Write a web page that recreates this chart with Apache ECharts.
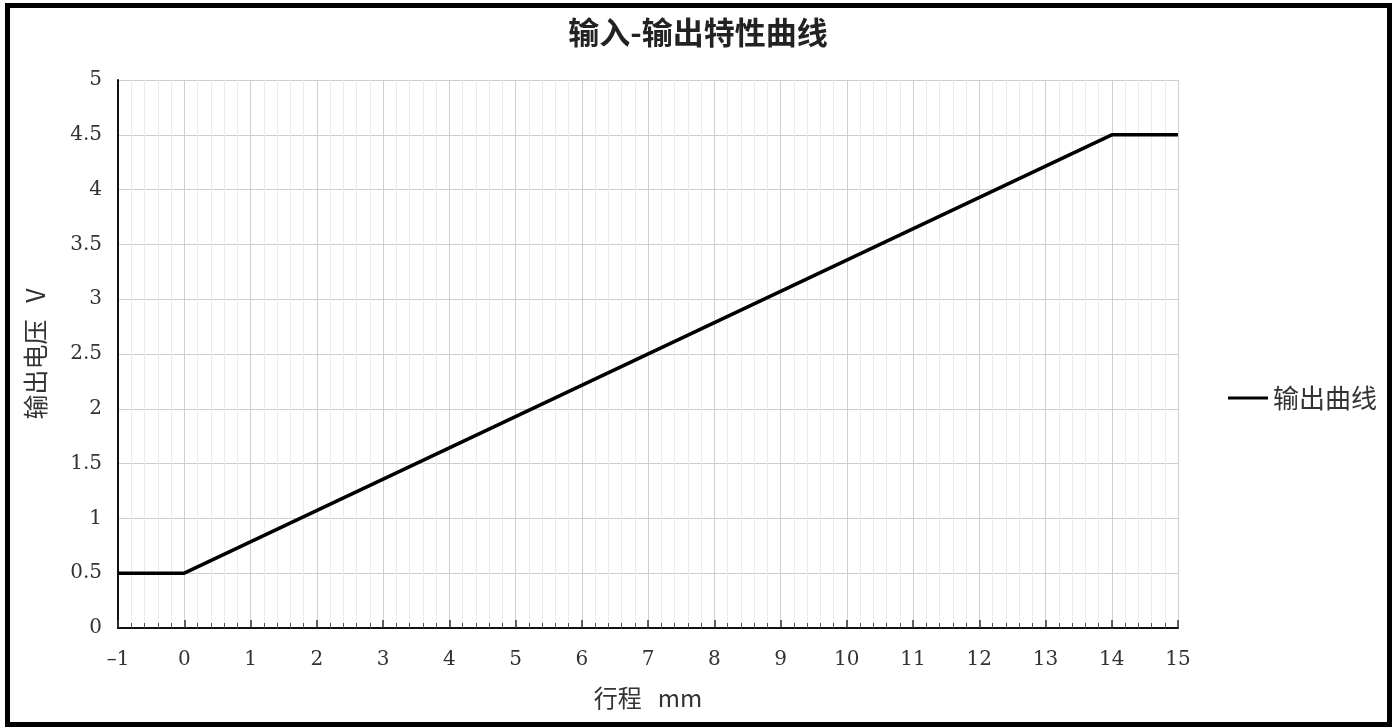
<!DOCTYPE html>
<html><head><meta charset="utf-8">
<script src="https://cdn.jsdelivr.net/npm/echarts@6/dist/echarts.min.js"></script>
<style>html,body{margin:0;padding:0;background:#fff}#c{width:1396px;height:728px}</style>
</head><body><div id="c"></div>
<script>
const titleText = '输入-输出特性曲线';
const seriesName = '输出曲线';
const xName = '行程   mm';
const yName = '输出电压   V';
const strokeX = [-1, 0, 14, 15];
const voltageY = [0.5, 0.5, 4.5, 4.5];

const chart = echarts.init(document.getElementById('c'));
const cjk = '"Noto Sans CJK SC", sans-serif';
const num = '"DejaVu Serif", "Liberation Serif", serif';
chart.setOption({
  animation: false,
  backgroundColor: '#fff',
  title: { text: titleText, left: 'center', top: 12,
    textStyle: { fontFamily: cjk, fontSize: 31, fontWeight: 'bold', color: '#222' } },
  legend: { right: 14, top: 380, orient: 'vertical', itemWidth: 40, itemHeight: 3, itemGap: 8,
    icon: 'rect', textStyle: { fontFamily: cjk, fontSize: 26, color: '#333' },
    data: [{ name: seriesName, icon: 'rect' }] },
  grid: { left: 118, right: 218, top: 80, bottom: 100 },
  xAxis: {
    type: 'value', min: -1, max: 15, interval: 1,
    name: xName, nameLocation: 'middle', nameGap: 58,
    nameTextStyle: { fontFamily: cjk, fontSize: 24, color: '#333' },
    axisLine: { onZero: false, lineStyle: { color: '#111', width: 2 } },
    axisTick: { inside: true, length: 8, lineStyle: { color: '#333', width: 1.5 } },
    minorTick: { show: true, splitNumber: 5, length: 5, lineStyle: { color: '#555' } },
    axisLabel: { fontFamily: num, fontSize: 20, color: '#333', margin: 22,
      formatter: v => (v < 0 ? '\u2013' + Math.abs(v) : String(v)) },
    splitLine: { show: true, lineStyle: { color: '#cfcfcf', width: 1 } },
    minorSplitLine: { show: true, lineStyle: { color: '#ececec', width: 1 } }
  },
  yAxis: {
    type: 'value', min: 0, max: 5, interval: 0.5,
    name: yName, nameLocation: 'middle', nameGap: 70, nameRotate: 90,
    nameTextStyle: { fontFamily: cjk, fontSize: 25, color: '#333' },
    axisLine: { show: true, onZero: false, lineStyle: { color: '#111', width: 2 } },
    axisTick: { show: false },
    axisLabel: { fontFamily: num, fontSize: 20, color: '#333', margin: 16 },
    splitLine: { show: true, lineStyle: { color: '#cfcfcf', width: 1 } }
  },
  series: [{
    name: seriesName, type: 'line', symbol: 'none',
    data: strokeX.map((x, i) => [x, voltageY[i]]),
    lineStyle: { color: '#000', width: 3.5 }, itemStyle: { color: '#000' }
  }],
  graphic: [{ type: 'rect', shape: { x: 7.5, y: 5.5, width: 1382, height: 719 },
    style: { fill: null, stroke: '#000', lineWidth: 5 }, silent: true, z: 100 }]
});
</script></body></html>
